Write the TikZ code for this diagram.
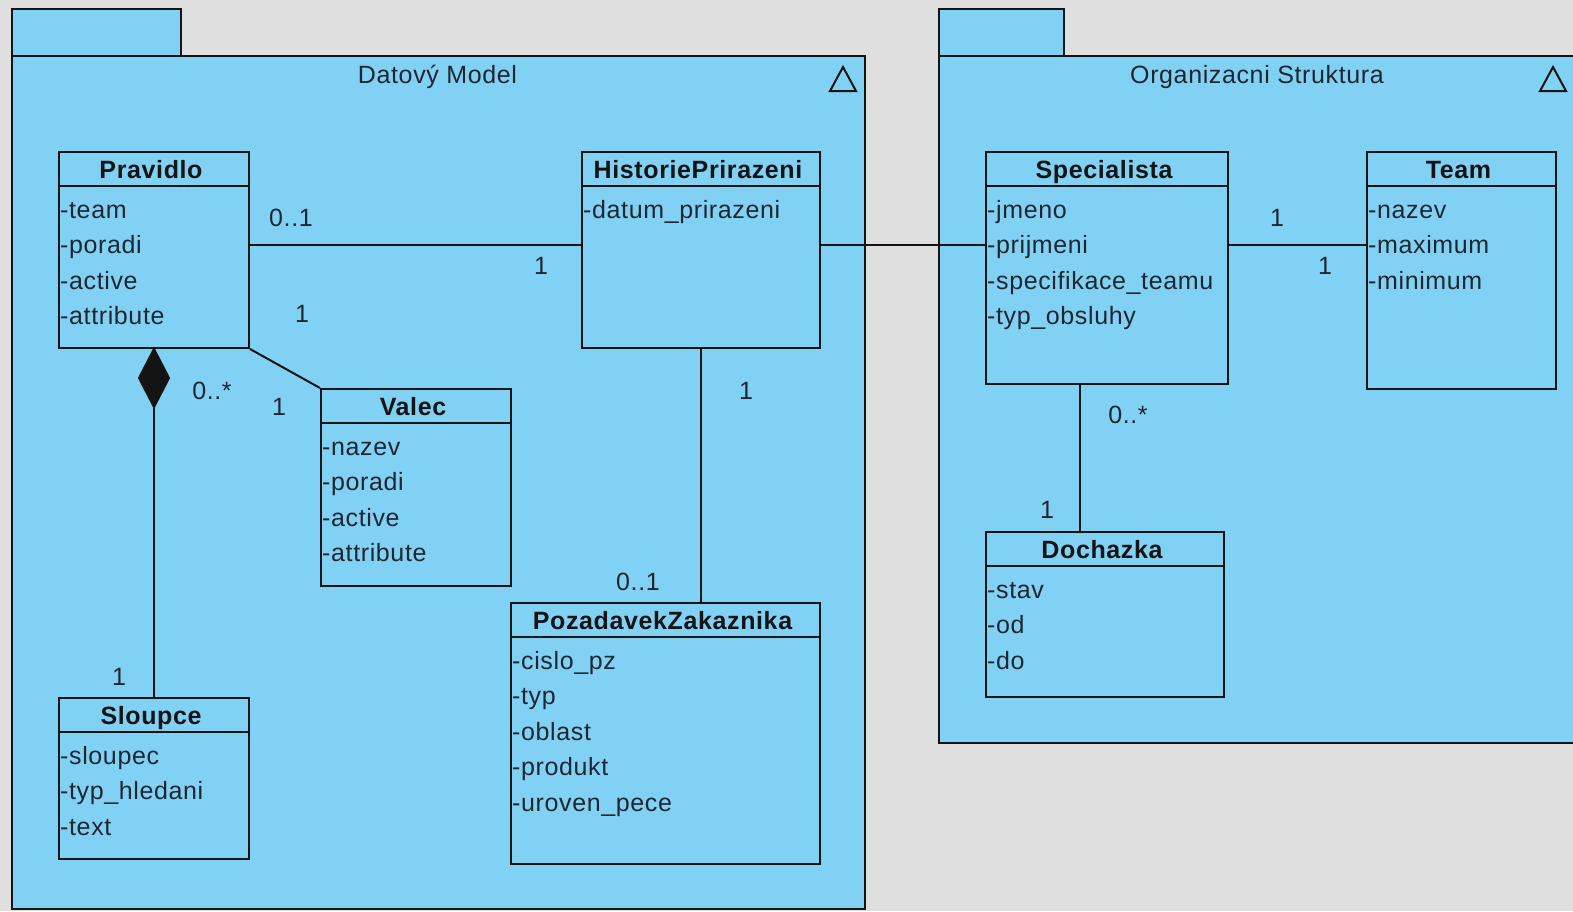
\documentclass[tikz,border=0pt]{standalone}
\usepackage{fontspec}
\setmainfont{Liberation Sans}[LetterSpace=2.5]
\definecolor{pkgblue}{RGB}{129,209,245}
\definecolor{bggray}{RGB}{223,223,223}
\definecolor{ink}{RGB}{20,20,20}
\definecolor{txt}{RGB}{30,38,48}
\tikzset{
  pkg/.style={draw=ink, fill=pkgblue, line width=2pt, rectangle, inner sep=0pt, anchor=north west},
  clsbox/.style={draw=ink, fill=pkgblue, line width=2pt, rectangle, inner sep=0pt, anchor=north west},
  clstitle/.style={font=\fontsize{25}{30}\selectfont\bfseries, text=ink, anchor=base, inner sep=0pt},
  pkgtitle/.style={font=\fontsize{25}{30}\selectfont, text=txt, anchor=base, inner sep=0pt},
  attr/.style={font=\fontsize{25}{30}\selectfont, text=txt, anchor=base west, inner sep=0pt},
  mult/.style={font=\fontsize{25}{30}\selectfont, text=txt, anchor=base, inner sep=0pt},
  assoc/.style={draw=ink, line width=2pt},
}
\newcommand{\umlclass}[6]{%
  \node[clsbox, minimum width=#4pt, minimum height=#5pt] (#1) at (#2,#3) {};
  \draw[assoc] (#2,#3+35) -- ++(#4,0);
  \node[clstitle] (#1-t) at (#2+#4/2-2,#3+27) {#6};
}
\newcommand{\umlattrs}[4]{%
  \foreach \a [count=\i] in {#4} {\node[attr] (#1-a\i) at (#2+2,#3+67+35.5*\i-35.5) {\a};}
}
\begin{document}
\begin{tikzpicture}[x=1pt,y=-1pt]
\useasboundingbox (0,0) rectangle (1573,911);
\fill[bggray] (0,0) rectangle (1573,911);
% packages
\node[pkg, minimum width=169pt, minimum height=47pt] (tabA) at (11,8) {};
\node[pkg, minimum width=853pt, minimum height=853pt] (pkgA) at (11,55) {};
\node[pkgtitle] (pkgA-t) at (437.5,83) {Datový Model};
\draw[assoc] (830,91) -- (856,91) -- (843,67) -- cycle;
\node[pkg, minimum width=125pt, minimum height=47pt] (tabB) at (938,8) {};
\node[pkg, minimum width=637pt, minimum height=687pt] (pkgB) at (938,55) {};
\node[pkgtitle] (pkgB-t) at (1257,83) {Organizacni Struktura};
\draw[assoc] (1540,91) -- (1566,91) -- (1553,67) -- cycle;
% classes
\umlclass{pravidlo}{58}{151}{190}{196}{Pravidlo}
\umlattrs{pravidlo}{58}{151}{-team,-poradi,-active,-attribute}
\umlclass{hist}{581}{151}{238}{196}{HistoriePrirazeni}
\umlattrs{hist}{581}{151}{-datum\_prirazeni}
\umlclass{spec}{985}{151}{242}{232}{Specialista}
\umlattrs{spec}{985}{151}{-jmeno,-prijmeni,-specifikace\_teamu,-typ\_obsluhy}
\umlclass{team}{1366}{151}{189}{237}{Team}
\umlattrs{team}{1366}{151}{-nazev,-maximum,-minimum}
\umlclass{valec}{320}{388}{190}{197}{Valec}
\umlattrs{valec}{320}{388}{-nazev,-poradi,-active,-attribute}
\umlclass{sloupce}{58}{697}{190}{161}{Sloupce}
\umlattrs{sloupce}{58}{697}{-sloupec,-typ\_hledani,-text}
\umlclass{poz}{510}{602}{309}{261}{PozadavekZakaznika}
\umlattrs{poz}{510}{602}{-cislo\_pz,-typ,-oblast,-produkt,-uroven\_pece}
\umlclass{doch}{985}{531}{238}{165}{Dochazka}
\umlattrs{doch}{985}{531}{-stav,-od,-do}
% connectors
\coordinate (row) at (0,245);
\draw[assoc] (pravidlo.east |- row) -- (hist.west |- row);
\draw[assoc] (hist.east |- row) -- (spec.west |- row);
\draw[assoc] (spec.east |- row) -- (team.west |- row);
\draw[assoc] (pravidlo.south east) -- (valec.north west);
\draw[assoc, fill=ink] (pravidlo.south) -- ++(15,29) -- ++(-15,29) coordinate (dbot) -- ++(-15,-29) -- cycle;
\draw[assoc] (dbot) -- (sloupce.north);
\draw[assoc] (hist.south) -- (hist.south |- poz.north);
\coordinate (col) at (1080,0);
\draw[assoc] (col |- spec.south) -- (col |- doch.north);
% multiplicities
\node[mult] (m1) at (291,226) {0..1};
\node[mult] (m2) at (541,274) {1};
\node[mult] (m3) at (302,322) {1};
\node[mult] (m4) at (279,415) {1};
\node[mult] (m5) at (212,399) {0..*};
\node[mult] (m6) at (119,685) {1};
\node[mult] (m7) at (746,399) {1};
\node[mult] (m8) at (638,590) {0..1};
\node[mult] (m9) at (1277,226) {1};
\node[mult] (m10) at (1325,274) {1};
\node[mult] (m11) at (1128,423) {0..*};
\node[mult] (m12) at (1047,518) {1};
\end{tikzpicture}
\end{document}
